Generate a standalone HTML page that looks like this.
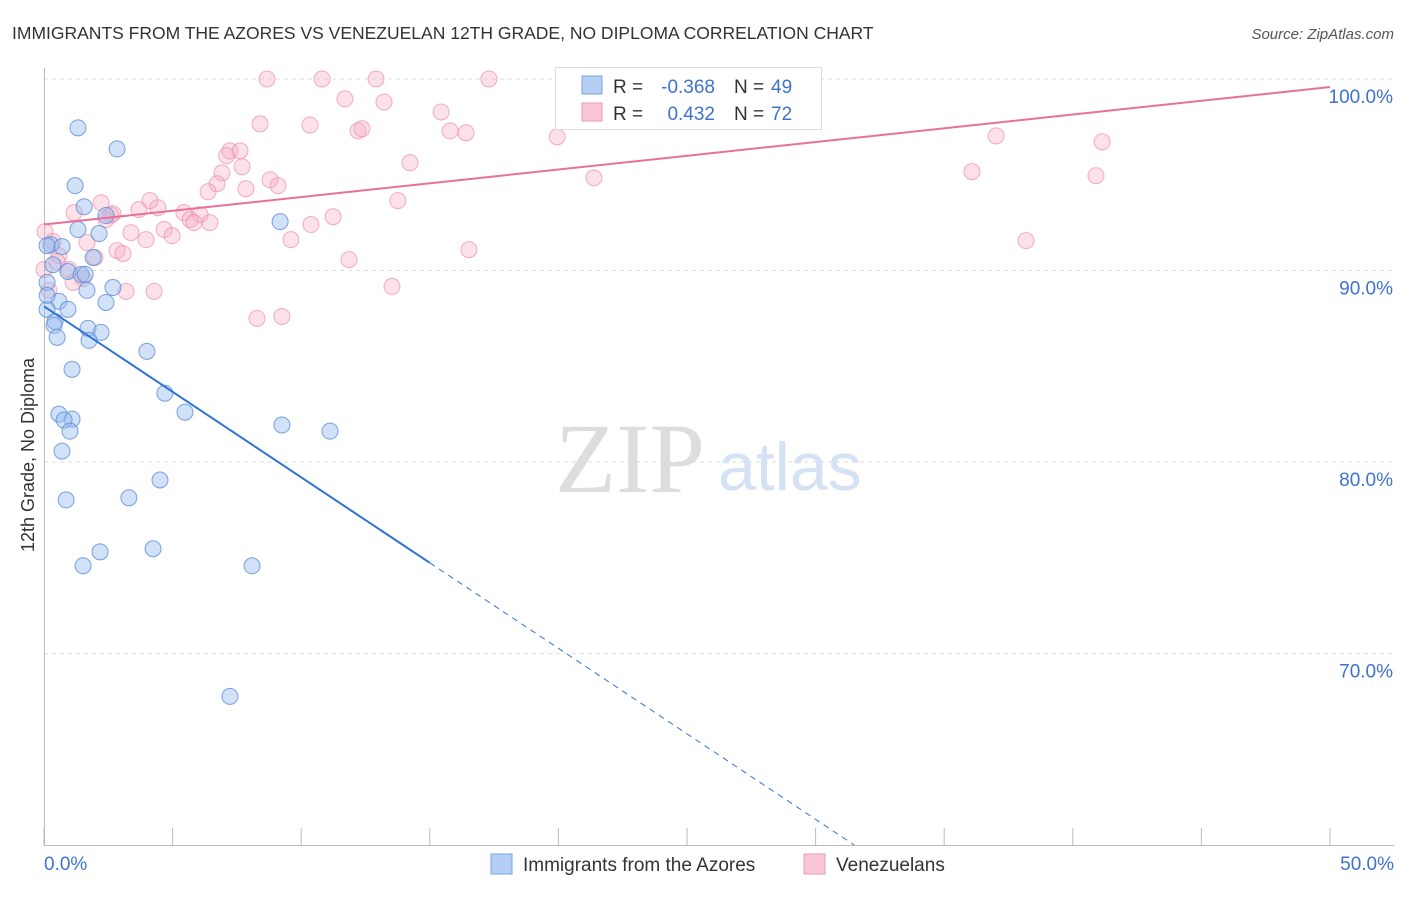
<!DOCTYPE html>
<html><head><meta charset="utf-8"><style>
body{margin:0;background:#fff;font-family:"Liberation Sans",sans-serif;}
svg text{font-family:"Liberation Sans",sans-serif;}
</style></head><body>
<svg id="chart" width="1406" height="892">
<text x="12" y="39" font-size="17.5" fill="#333">IMMIGRANTS FROM THE AZORES VS VENEZUELAN 12TH GRADE, NO DIPLOMA CORRELATION CHART</text>
<text x="1394" y="39" font-size="15" fill="#555" font-style="italic" text-anchor="end">Source: ZipAtlas.com</text>
<text transform="translate(34,455) rotate(-90)" font-size="18" fill="#333" text-anchor="middle">12th Grade, No Diploma</text>
<g id="grid"></g>
<text x="555" y="492" font-size="100" fill="#ddd" style="font-family:'Liberation Serif',serif">ZIP</text>
<text x="718" y="490" font-size="68" fill="#d4e2f4">atlas</text>
<g id="pts"></g>
<g id="lines"></g>
<g>
<rect x="555.5" y="67.5" width="266" height="62" fill="#fff" stroke="#ddd"/>
<rect x="582" y="76" width="20" height="18" fill="#b4cff3" stroke="#7aa5e0"/>
<rect x="582" y="103" width="20" height="18" fill="#fbc6d6" stroke="#ef9ab5"/>
<text x="613" y="93" font-size="19" fill="#333">R =</text>
<text x="715" y="93" font-size="19" fill="#3d72cf" text-anchor="end">-0.368</text>
<text x="734" y="93" font-size="19" fill="#333">N =</text>
<text x="771" y="93" font-size="19" fill="#3d72cf">49</text>
<text x="613" y="120" font-size="19" fill="#333">R =</text>
<text x="715" y="120" font-size="19" fill="#3d72cf" text-anchor="end">0.432</text>
<text x="734" y="120" font-size="19" fill="#333">N =</text>
<text x="771" y="120" font-size="19" fill="#3d72cf">72</text>
</g>
<g>
<rect x="491" y="854" width="21" height="20" fill="#b4cff3" stroke="#7aa5e0"/>
<text x="523" y="871" font-size="19" fill="#333">Immigrants from the Azores</text>
<rect x="804" y="854" width="21" height="20" fill="#fbc6d6" stroke="#ef9ab5"/>
<text x="836" y="871" font-size="19" fill="#333">Venezuelans</text>
</g>
<text x="44" y="870" font-size="19" fill="#3d72cf">0.0%</text>
<text x="1394" y="870" font-size="19" fill="#3d72cf" text-anchor="end">50.0%</text>
</svg>
<script>
const yTicks=[100,90,80,70];
const yTickLabels=["100.0%","90.0%","80.0%","70.0%"];
const xTickVals=[0,5,10,15,20,25,30,35,40,45,50];
const blueX=[0.27,0.12,0.70,1.32,2.84,1.21,1.56,1.32,2.14,2.41,1.91,0.93,1.44,0.12,1.67,2.68,0.58,2.41,0.93,0.12,0.43,0.39,1.71,2.22,0.51,1.75,4.00,1.09,4.70,5.48,0.58,1.09,0.78,1.01,9.25,11.12,0.70,4.51,0.86,3.30,2.18,4.24,1.52,8.09,7.23,9.18,0.12,0.35,1.6];
const blueY=[91.35,91.30,91.25,97.45,96.35,94.43,93.33,92.14,91.93,92.87,90.68,89.95,89.79,89.38,88.96,89.11,88.39,88.33,87.97,87.97,87.34,87.14,86.98,86.77,86.51,86.35,85.78,84.84,83.59,82.60,82.50,82.24,82.19,81.61,81.93,81.61,80.57,79.06,78.02,78.13,75.31,75.47,74.58,74.58,67.76,92.55,88.70,90.3,89.8];
const pinkX=[8.67,10.81,12.91,17.30,11.70,13.22,15.44,8.40,10.34,12.21,12.36,15.79,16.41,19.95,37.02,41.14,7.23,7.62,14.23,7.70,6.92,6.73,21.38,36.08,40.90,8.79,9.10,7.85,6.38,13.76,4.12,2.22,4.43,1.17,2.68,3.69,5.44,6.07,2.41,5.68,6.45,5.83,11.24,10.38,4.67,3.38,4.98,3.97,9.60,1.67,38.18,16.52,2.84,3.07,0.58,1.98,11.86,0.97,1.52,1.13,13.53,3.19,4.28,8.28,9.25,0.04,0.35,0.51,0.19,0,7.1,2.6];
const pinkY=[100,100,100,100,98.96,98.80,98.28,97.66,97.60,97.29,97.40,97.29,97.19,96.98,97.03,96.72,96.25,96.25,95.63,95.42,95.10,94.53,94.84,95.16,94.95,94.74,94.43,94.27,94.11,93.65,93.65,93.54,93.28,93.02,92.97,93.18,93.02,92.92,92.66,92.66,92.50,92.50,92.81,92.40,92.14,91.98,91.82,91.61,91.61,91.46,91.56,91.09,91.04,90.89,90.78,90.68,90.57,90.05,89.58,89.38,89.17,88.91,88.91,87.50,87.60,92.03,91.51,90.47,88.96,90.05,96.0,92.9];
const blueTrend=[88.13,-0.893];
const pinkTrend=[92.40,0.1436];
const xs=v=>44+v/50*1286;
const ys=v=>845-(v-60)/40*766;
const NS="http://www.w3.org/2000/svg";
function mk(tag,attrs,parent){const e=document.createElementNS(NS,tag);for(const k in attrs)e.setAttribute(k,attrs[k]);parent.appendChild(e);return e;}
const grid=document.getElementById('grid');
yTicks.forEach((t,i)=>{
 const l=mk('line',{x1:44,x2:1394,y1:ys(t),y2:ys(t),stroke:'#ddd','stroke-dasharray':'4,4'},grid);
 
 
 const tx=mk('text',{x:1393,y:ys(t)+24,'font-size':19,fill:'#3d72cf','text-anchor':'end'},grid);
 tx.textContent=yTickLabels[i];
 
 
});
const ax=mk('line',{x1:44,x2:1394,y1:845.5,y2:845.5,stroke:'#bbb'},grid);


const ay=mk('line',{x1:44.5,x2:44.5,y1:68,y2:845,stroke:'#bbb'},grid);


xTickVals.forEach(v=>{
 const t=mk('line',{x1:xs(v),x2:xs(v),y1:828,y2:845,stroke:'#bbb'},grid);
 
 
});
const pts=document.getElementById('pts');
pinkX.forEach((x,i)=>{
 const c=mk('circle',{cx:xs(x),cy:ys(pinkY[i]),r:8,fill:'rgba(246,168,193,0.35)',stroke:'rgba(236,140,172,0.7)','stroke-width':1},pts);
 
 
});
blueX.forEach((x,i)=>{
 const c=mk('circle',{cx:xs(x),cy:ys(blueY[i]),r:8,fill:'rgba(150,188,240,0.45)',stroke:'rgba(90,140,215,0.8)','stroke-width':1},pts);
 
 
});
const lines=document.getElementById('lines');
const bEnd=15, bZero=(60-blueTrend[0])/blueTrend[1];
const b1=mk('line',{x1:xs(0),y1:ys(blueTrend[0]),x2:xs(bEnd),y2:ys(blueTrend[0]+blueTrend[1]*bEnd),stroke:'#2f72d8','stroke-width':2},lines);


const b2=mk('line',{x1:xs(bEnd),y1:ys(blueTrend[0]+blueTrend[1]*bEnd),x2:xs(bZero),y2:ys(60),stroke:'#2f72d8','stroke-width':1,'stroke-dasharray':'6,5'},lines);


const p1=mk('line',{x1:xs(0),y1:ys(pinkTrend[0]),x2:xs(50),y2:ys(pinkTrend[0]+pinkTrend[1]*50),stroke:'#e8709a','stroke-width':2},lines);


</script>
</body></html>
